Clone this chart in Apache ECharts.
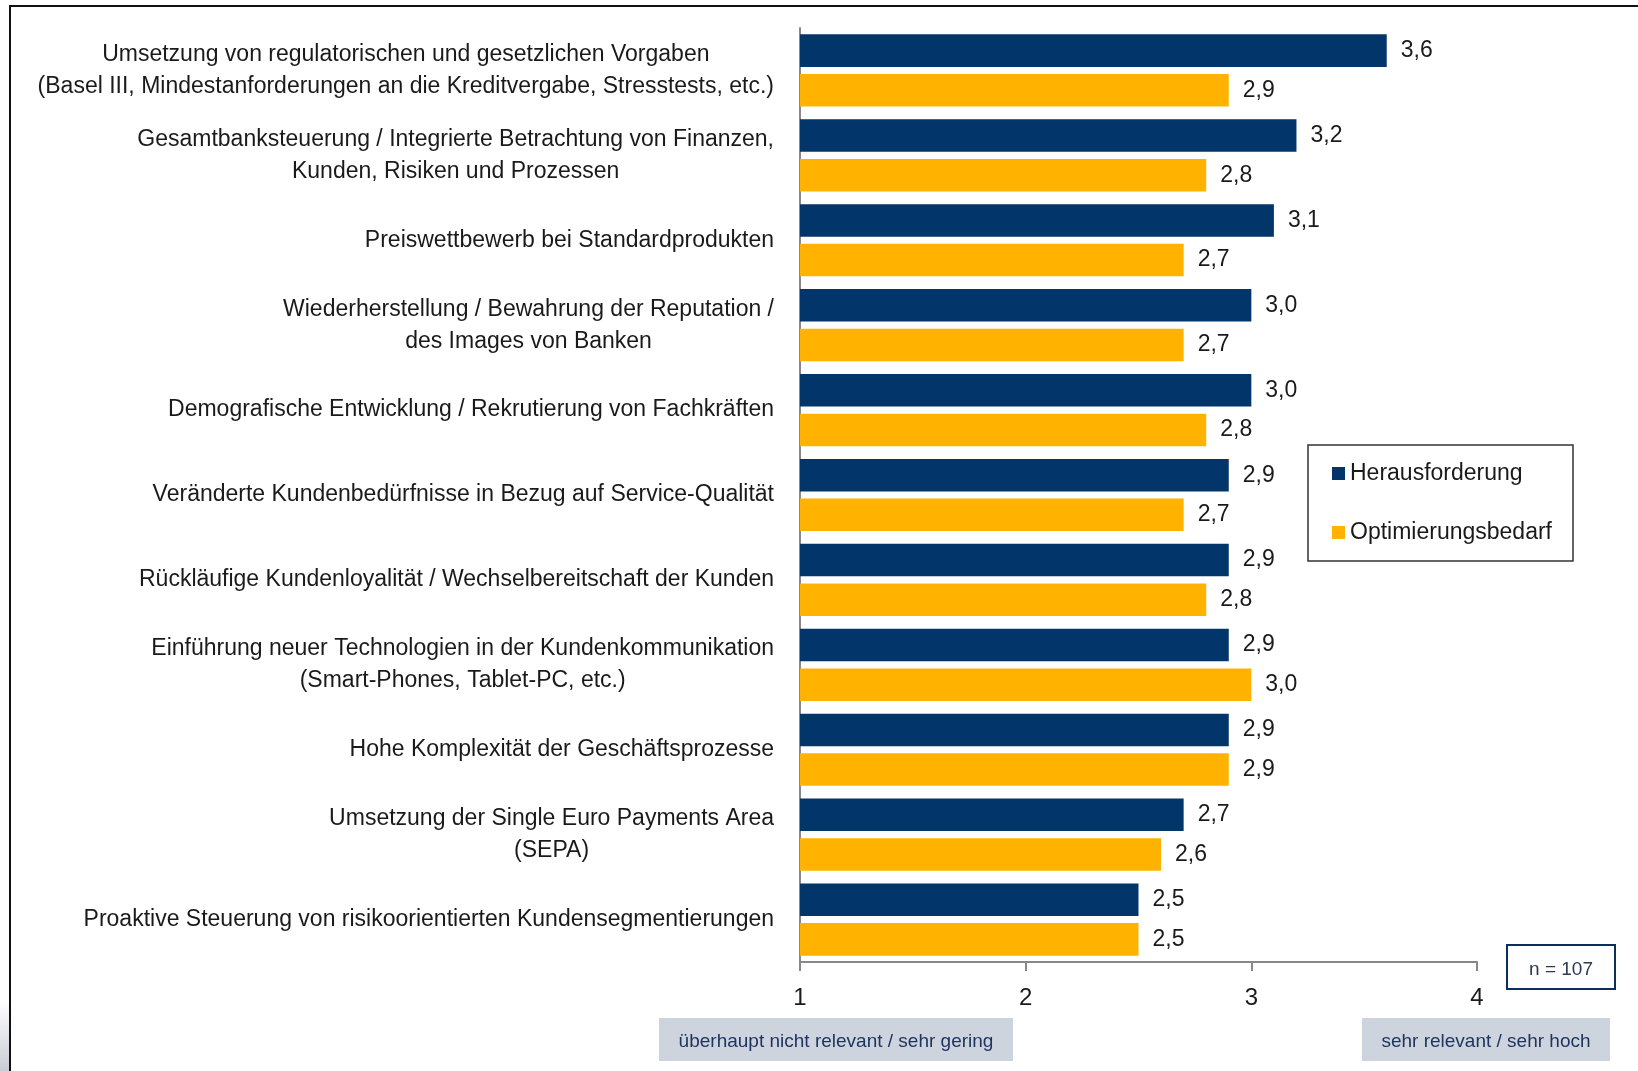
<!DOCTYPE html>
<html>
<head>
<meta charset="utf-8">
<script src="https://cdn.jsdelivr.net/npm/echarts@6/dist/echarts.min.js"></script>
<style>
  html, body { margin: 0; padding: 0; background: #fff; }
  #chart { width: 1638px; height: 1071px; }
</style>
</head>
<body>
<div id="chart"></div>
<script>
var categories = [
  'Umsetzung von regulatorischen und gesetzlichen Vorgaben\n(Basel III, Mindestanforderungen an die Kreditvergabe, Stresstests, etc.)',
  'Gesamtbanksteuerung / Integrierte Betrachtung von Finanzen,\nKunden, Risiken und Prozessen',
  'Preiswettbewerb bei Standardprodukten',
  'Wiederherstellung / Bewahrung der Reputation /\ndes Images von Banken',
  'Demografische Entwicklung / Rekrutierung von Fachkräften',
  'Veränderte Kundenbedürfnisse in Bezug auf Service-Qualität',
  'Rückläufige Kundenloyalität / Wechselbereitschaft der Kunden',
  'Einführung neuer Technologien in der Kundenkommunikation\n(Smart-Phones, Tablet-PC, etc.)',
  'Hohe Komplexität der Geschäftsprozesse',
  'Umsetzung der Single Euro Payments Area\n(SEPA)',
  'Proaktive Steuerung von risikoorientierten Kundensegmentierungen'
]
var herausforderung = [3.6, 3.2, 3.1, 3.0, 3.0, 2.9, 2.9, 2.9, 2.9, 2.7, 2.5]
var optimierungsbedarf = [2.9, 2.8, 2.7, 2.7, 2.8, 2.7, 2.8, 3.0, 2.9, 2.6, 2.5]
var seriesNames = ['Herausforderung', 'Optimierungsbedarf']
var scaleLeft = 'überhaupt nicht relevant / sehr gering'
var scaleRight = 'sehr relevant / sehr hoch'
var sampleNote = 'n = 107'

var font = '"Liberation Sans", Arial, sans-serif'
var myChart = echarts.init(document.getElementById('chart'))

function commaLabel(p) {
  return p.value.toFixed(1).replace('.', ',')
}

option = {
  animation: false,
  backgroundColor: '#fff',
  textStyle: { fontFamily: font },
  grid: { left: 800, right: 161, top: 28, bottom: 109, containLabel: false },
  legend: {
    orient: 'vertical',
    left: 1308,
    top: 445,
    padding: [17, 21, 17, 24],
    itemGap: 36,
    itemWidth: 13,
    itemHeight: 13,
    icon: 'rect',
    borderColor: '#333',
    borderWidth: 1.5,
    textStyle: { fontSize: 23, color: '#1a1a1a', fontFamily: font },
    data: seriesNames
  },
  xAxis: {
    type: 'value',
    min: 1,
    max: 4,
    interval: 1,
    splitLine: { show: false },
    axisLine: { show: true, lineStyle: { color: '#888', width: 2 } },
    axisTick: { show: true, length: 9, lineStyle: { color: '#888', width: 2 } },
    axisLabel: { fontSize: 24, color: '#1a1a1a', margin: 24, fontFamily: font }
  },
  yAxis: {
    type: 'category',
    inverse: true,
    data: categories,
    axisLine: { lineStyle: { color: '#888', width: 2 } },
    axisTick: { length: 8, lineStyle: { color: '#888', width: 2 } },
    axisLabel: {
      margin: 26,
      fontSize: 23,
      color: '#1a1a1a',
      fontFamily: font,
      lineHeight: 32,
      align: 'right',
      formatter: function(v) {
        return v.split('\n').map(function(l) { return '{c|' + l + '}' }).join('\n')
      },
      rich: {
        c: { align: 'center', fontSize: 23, lineHeight: 32, color: '#1a1a1a', fontFamily: font }
      }
    }
  },
  series: [
    {
      name: seriesNames[0],
      type: 'bar',
      data: herausforderung,
      barCategoryGap: '15%',
      barGap: '22%',
      clip: true,
      itemStyle: { color: '#02356a' },
      label: {
        show: true, position: 'right', distance: 14,
        fontSize: 23, color: '#1a1a1a', fontFamily: font,
        formatter: commaLabel
      }
    },
    {
      name: seriesNames[1],
      type: 'bar',
      data: optimierungsbedarf,
      barCategoryGap: '15%',
      barGap: '22%',
      clip: true,
      itemStyle: { color: '#ffb300' },
      label: {
        show: true, position: 'right', distance: 14,
        fontSize: 23, color: '#1a1a1a', fontFamily: font,
        formatter: commaLabel
      }
    }
  ],
  graphic: [
    // outer frame
    { type: 'rect', shape: { x: 10, y: 6, width: 1700, height: 1100 }, style: { fill: 'none', stroke: '#111', lineWidth: 2 }, silent: true },
    { type: 'rect', shape: { x: 0, y: 1000, width: 9, height: 71 },
      style: { fill: new echarts.graphic.LinearGradient(0, 0, 0, 1, [{ offset: 0, color: '#ffffff' }, { offset: 1, color: '#c9ccd6' }]) }, silent: true },
    // n box
    { type: 'rect', shape: { x: 1507, y: 945, width: 108, height: 44 }, style: { fill: '#fff', stroke: '#0b2e5c', lineWidth: 2 } },
    { type: 'text', x: 1561, y: 970, style: { text: sampleNote, fill: '#2a3a55', font: '19px ' + font, textAlign: 'center', textVerticalAlign: 'middle' } },
    // scale captions
    { type: 'rect', shape: { x: 659, y: 1018, width: 354, height: 43 }, style: { fill: '#ced4de' } },
    { type: 'text', x: 836, y: 1042, style: { text: scaleLeft, fill: '#1f3560', font: '19px ' + font, textAlign: 'center', textVerticalAlign: 'middle' } },
    { type: 'rect', shape: { x: 1362, y: 1018, width: 248, height: 43 }, style: { fill: '#ced4de' } },
    { type: 'text', x: 1486, y: 1042, style: { text: scaleRight, fill: '#1f3560', font: '19px ' + font, textAlign: 'center', textVerticalAlign: 'middle' } }
  ]
}
myChart.setOption(option)
window.onresize = function() {
  myChart.resize()
}
</script>
</body>
</html>
